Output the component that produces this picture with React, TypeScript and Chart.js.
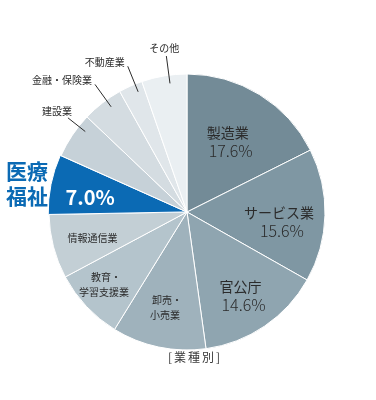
import React, { useEffect, useRef } from 'react';
import { Chart, registerables } from 'chart.js';

Chart.register(...registerables);

const categories = ['製造業', 'サービス業', '官公庁', '卸売・小売業', '教育・学習支援業', '情報通信業', '医療福祉', '建設業', '金融・保険業', '不動産業', 'その他'];
const shares = [17.6, 15.6, 14.6, 11.0, 8.4, 7.5, 7.0, 5.4, 4.8, 2.8, 5.3];
const sliceColors = ['#738b97', '#7f97a3', '#8fa5b0', '#9fb2bc', '#b4c4cc', '#c3cfd5', '#0b6ab4', '#c6d1d8', '#d4dce1', '#e0e6ea', '#eaeff2'];
const labelLines = [['製造業'], ['サービス業'], ['官公庁'], ['卸売・', '小売業'], ['教育・', '学習支援業'], ['情報通信業'], [], ['建設業'], ['金融・保険業'], ['不動産業'], ['その他']];
const showPercent = [true, true, true, false, false, false, true, false, false, false, false];
const highlightTitle = ['医療', '福祉'];
const captionText = '[業種別]';

const FONT = '"Noto Sans CJK JP", "Noto Sans", sans-serif';
const deg = Math.PI / 180;

// label placement (inside): radius fraction & angle tweak (deg)
const insideR = [0.59, 0.67, 0.72, 0.71, 0.8, 0.71, 0.71];
const insideDA = [-1.7, 4.6, 1.6, 1.1, 1.9, -0.9, -2.7];

const labelPlugin = {
  id: 'sliceLabels',
  afterDatasetsDraw(chart: any) {
    const ctx = chart.ctx;
    const meta = chart.getDatasetMeta(0);
    ctx.save();
    ctx.textBaseline = 'middle';
    meta.data.forEach((arc: any, i: number) => {
      const { x, y, startAngle, endAngle, outerRadius } = arc.getProps(['x', 'y', 'startAngle', 'endAngle', 'outerRadius'], true);
      const mid = (startAngle + endAngle) / 2;
      const pct = shares[i].toFixed(1) + '%';
      if (i < 7) {
        const a = mid + insideDA[i] * deg;
        const r = outerRadius * insideR[i];
        const cx = x + Math.cos(a) * r;
        const cy = y + Math.sin(a) * r;
        ctx.textAlign = 'center';
        if (i < 3) {
          ctx.fillStyle = '#2b2b2b';
          ctx.font = `400 14px ${FONT}`;
          ctx.fillText(labelLines[i][0], cx, cy - 9);
          ctx.font = `300 16px ${FONT}`;
          ctx.fillText(pct, cx + 3, cy + 9.5);
        } else if (i === 6) {
          ctx.fillStyle = '#ffffff';
          ctx.font = `700 20px ${FONT}`;
          ctx.fillText(pct, cx, cy);
          // highlighted title outside
          ctx.fillStyle = '#0b6ab4';
          ctx.font = `700 21px ${FONT}`;
          ctx.textAlign = 'center';
          const tx = x - outerRadius - 1 - 24 + 2;
          ctx.fillText(highlightTitle[0], tx + 1, cy - 26);
          ctx.fillText(highlightTitle[1], tx + 1, cy - 1);
        } else {
          ctx.fillStyle = '#2b2b2b';
          ctx.font = `400 10px ${FONT}`;
          const lines = labelLines[i];
          const n = lines.length;
          lines.forEach((t, k) => {
            ctx.fillText(t, cx + (t.endsWith('・') ? 2 : 0), cy + (k - (n - 1) / 2) * 15.5);
          });
        }
      } else {
        const a = mid + (i === 7 ? 4.5 : 2) * deg;
        const r1 = outerRadius * 0.94;
        const r2 = outerRadius * (i === 7 ? 1.1 : 1.14);
        const x1 = x + Math.cos(a) * r1, y1 = y + Math.sin(a) * r1;
        const x2 = x + Math.cos(a) * r2, y2 = y + Math.sin(a) * r2;
        ctx.strokeStyle = '#2b2b2b';
        ctx.lineWidth = 1;
        ctx.beginPath();
        ctx.moveTo(x1, y1);
        ctx.lineTo(x2, y2);
        ctx.stroke();
        ctx.fillStyle = '#2b2b2b';
        ctx.font = `400 10px ${FONT}`;
        const t = labelLines[i][0];
        if (i === 10) {
          ctx.textAlign = 'center';
          ctx.fillText(t, x2 - 2, y2 - 8);
        } else if (i === 7) {
          ctx.textAlign = 'right';
          ctx.fillText(t, x2 + 4, y2 - 7);
        } else {
          ctx.textAlign = 'right';
          ctx.fillText(t, x2 - 3, y2 - 4);
        }
      }
    });
    // caption
    const a0 = meta.data[0];
    ctx.fillStyle = '#3a3a3a';
    ctx.font = `400 12px ${FONT}`;
    ctx.textAlign = 'center';
    (ctx as any).letterSpacing = '2px';
    ctx.fillText(captionText, a0.x + 8, a0.y + a0.outerRadius + 7);
    ctx.restore();
  },
};

export default function App() {
  const ref = useRef<HTMLCanvasElement | null>(null);
  useEffect(() => {
    if (!ref.current) return;
    const chart = new Chart(ref.current, {
      type: 'pie',
      data: {
        labels: categories,
        datasets: [
          {
            data: shares,
            backgroundColor: sliceColors,
            borderColor: '#ffffff',
            borderWidth: 1,
            offset: shares.map((_, i) => (i === 6 ? 2 : 0)),
            radius: 138,
          } as any,
        ],
      },
      options: {
        responsive: false,
        animation: false,
        events: [],
        layout: { padding: { left: 49, right: 51, top: 74, bottom: 50 } },
        plugins: { legend: { display: false }, tooltip: { enabled: false } },
      },
      plugins: [labelPlugin],
    });
    return () => chart.destroy();
  }, []);
  return (
    <div style={{ position: 'fixed', left: 0, top: 0, width: 376, height: 400, background: '#fff' }}>
      <canvas ref={ref} width={376} height={400} />
    </div>
  );
}
